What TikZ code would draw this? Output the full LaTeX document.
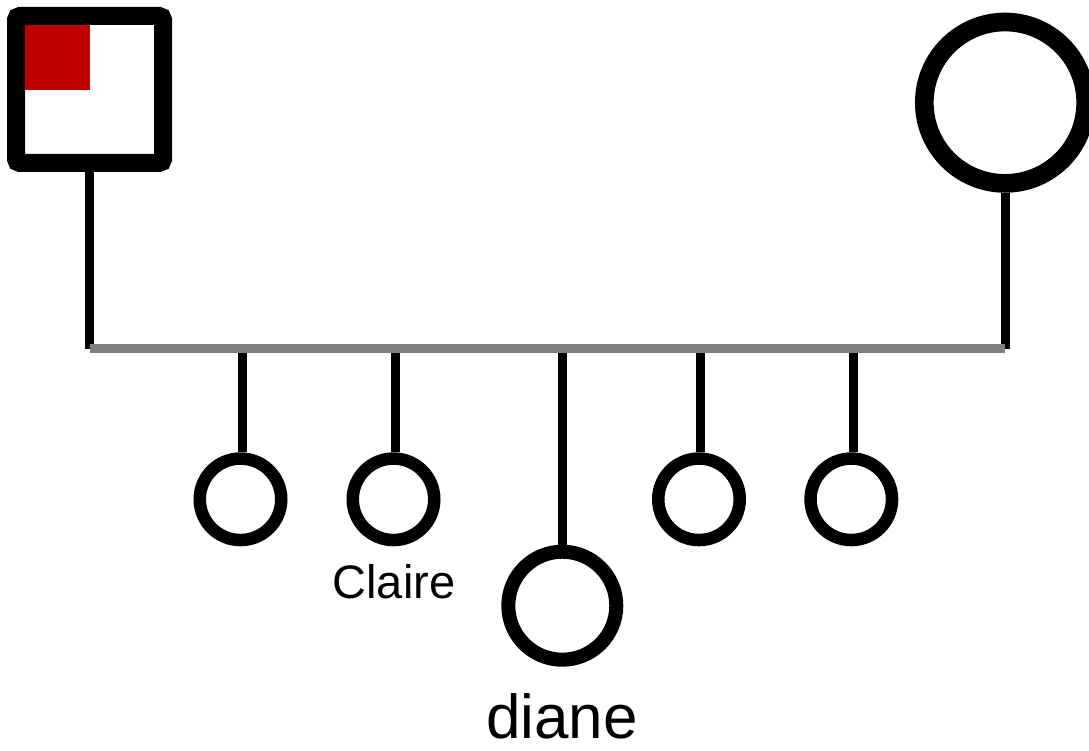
\documentclass[tikz,border=0pt]{standalone}
\usepackage{fontspec}
\setmainfont{Liberation Sans}
\begin{document}
\begin{tikzpicture}[x=1pt,y=-1pt,
  male/.style={draw=black,line width=18pt,rectangle,minimum size=147pt,inner sep=0pt,rounded corners=4pt,fill=white},
  bigfemale/.style={draw=black,line width=18.7pt,circle,minimum size=161.4pt,inner sep=0pt,fill=white},
  child/.style={draw=black,line width=12.5pt,circle,minimum size=81.5pt,inner sep=0pt,fill=white},
  proband/.style={draw=black,line width=14pt,circle,minimum size=108pt,inner sep=0pt,fill=white},
  link/.style={draw=black,line width=9pt},
  bar/.style={draw=gray,line width=8.5pt},
  lbl/.style={anchor=base,inner sep=0pt}
]
\useasboundingbox (0,0) rectangle (1089,751);
\node[male] (sq) at (89.5,89.5) {};
\fill[red!75!black] (25,25) rectangle (90,90);
\node[bigfemale] (mo) at (1005,102.7) {};
\coordinate (mL) at (89.5,348.5);
\coordinate (mR) at (1005,348.5);
\node[child] (c1) at (240.5,499.3) {};
\node[child] (c2) at (393.5,499.3) {};
\node[proband] (c3) at (562.3,605.7) {};
\node[child] (c4) at (699,499.3) {};
\node[child] (c5) at (851.3,499.3) {};
\draw[link] (sq.south) -- (mL);
\draw[link] (mo.south) -- (mR);
\foreach \c/\xx in {c1/242.5,c2/395,c3/562.8,c4/700.3,c5/853.3}{
  \coordinate (\c top) at (\xx,348.5);
  \draw[link] (\c top) -- (\c top |- \c.north);
}
\draw[bar] (mL) -- (mR);
\node[lbl,font=\fontsize{47}{54}\selectfont] (tc) at (394,598) {Claire};
\node[lbl,font=\fontsize{62}{70}\selectfont] (td) at (562,738) {diane};
\end{tikzpicture}
\end{document}
